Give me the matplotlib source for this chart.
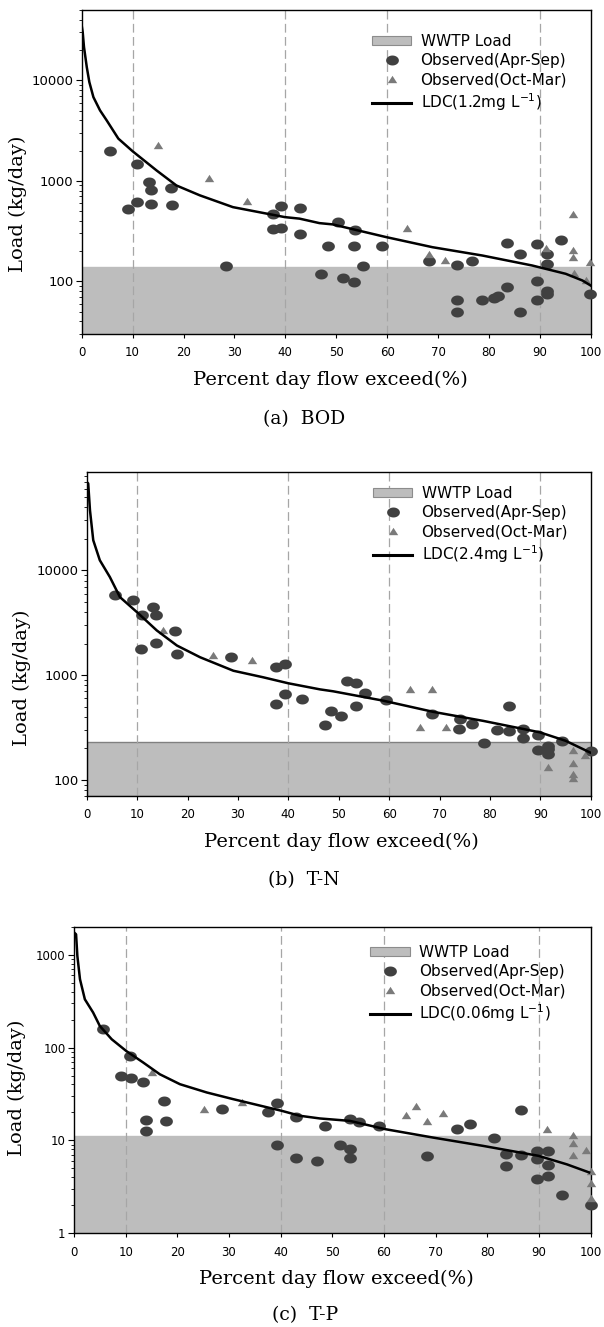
"""Load duration curves (LDC) for BOD, T-N and T-P, three stacked panels."""

import numpy as np
import matplotlib
matplotlib.use("Agg")  # non-interactive backend
import matplotlib.pyplot as plt
import matplotlib.ticker as mticker
from matplotlib.patches import Patch
from matplotlib.lines import Line2D

# ---------------------------------------------------------------------------
# Data
# ---------------------------------------------------------------------------
# (a) BOD
bod_ldc_pct = [0.0, 0.2, 0.45, 1.0, 1.5, 2.3, 3.6, 4.9, 7.2, 10.0, 14.7, 18.6, 23.2,
               29.7, 39.9, 42.8, 46.7, 49.3, 59.8, 68.9, 78.7, 88.5, 95.1, 98.4, 100.0]
bod_ldc_load = [35000, 30000, 21400, 13500, 9600, 6800, 5020, 4000, 2630, 1970, 1270, 900, 718,
                548, 436, 421, 380, 369, 276, 219, 181, 144, 119, 102, 91]
bod_apr_pct = [5.5, 9.1, 10.8, 10.8, 13.2, 13.7, 13.6, 17.5, 17.7, 28.4, 37.6, 39.1, 37.6,
               39.2, 42.8, 42.8, 47.1, 50.3, 53.6, 48.4, 53.4, 59.0, 55.2, 51.3, 53.4, 68.3,
               73.8, 76.6, 73.8, 73.8, 78.6, 81.0, 81.8, 83.5, 83.5, 86.1, 86.1, 89.5, 89.5,
               89.5, 91.5, 91.5, 91.5, 91.5, 94.2, 99.9]
bod_apr_load = [1970, 530, 610, 1480, 970, 820, 590, 840, 570, 142, 470, 560, 330,
                342, 540, 294, 119, 389, 321, 223, 223, 223, 141, 108, 99, 158,
                144, 159, 65, 49.5, 65, 69, 71, 89, 240, 188, 49.5, 233, 102,
                66, 188, 148, 81, 75, 258, 75]
bod_oct_pct = [14.9, 25.0, 32.4, 64.0, 68.3, 71.3, 91.3, 96.6, 96.6, 96.6, 96.7, 99.0, 99.8]
bod_oct_load = [2250, 1070, 625, 339, 188, 163, 215, 470, 203, 176, 122, 104, 156]
bod_wwtp = 138

# (b) T-N
tn_ldc_pct = [0.0, 0.3, 0.65, 1.3, 2.6, 4.6, 6.6, 10.2, 13.9, 17.9, 22.5, 29.1, 35.0,
              40.0, 46.3, 48.9, 58.8, 68.8, 78.7, 89.9, 95.0, 99.9]
tn_ldc_load = [70000, 67600, 37500, 19400, 12500, 8630, 5550, 3900, 2670, 1915, 1480, 1100, 953,
               835, 730, 700, 570, 445, 365, 284, 236, 182]
tn_apr_pct = [5.6, 9.2, 10.9, 13.2, 13.75, 10.85, 13.75, 17.5, 17.9, 28.6, 37.6, 39.3, 39.3,
              37.6, 42.7, 47.3, 48.4, 50.4, 51.6, 53.4, 55.2, 53.5, 59.3, 68.6, 74.1, 73.9,
              76.5, 78.8, 81.4, 83.8, 83.8, 86.5, 86.5, 89.6, 89.6, 91.6, 91.6, 91.6, 94.4, 100.0]
tn_apr_load = [5770, 5250, 3770, 4460, 3770, 1780, 2030, 2610, 1600, 1480, 1190, 1280, 660,
               530, 590, 333, 455, 409, 870, 836, 668, 502, 574, 426, 381, 305,
               341, 225, 299, 506, 292, 305, 248, 268, 192, 212, 197, 176, 236, 188]
tn_oct_pct = [15.2, 25.1, 32.7, 64.1, 68.5, 66.1, 71.2, 91.6, 96.5, 96.5, 96.5, 96.5, 98.9]
tn_oct_load = [2700, 1540, 1380, 738, 738, 318, 318, 133, 192, 146, 113, 105, 174]
tn_wwtp = 231

# (c) T-P
tp_ldc_pct = [0.0, 0.4, 0.65, 1.16, 2.1, 3.7, 5.0, 7.3, 10.1, 13.4, 16.6, 20.5, 25.7,
              30.8, 40.2, 43.7, 47.6, 53.4, 60.2, 69.5, 79.2, 89.9, 95.4, 99.7]
tp_ldc_load = [1750, 1668, 974, 546, 332, 239, 171, 123, 92, 69, 51.6, 40.3, 32.8,
               27.8, 20.8, 18.4, 17.2, 16.2, 13.2, 10.7, 8.7, 6.8, 5.5, 4.5]
tp_apr_pct = [5.7, 9.0, 10.8, 11.0, 13.3, 13.9, 13.9, 17.4, 17.9, 28.6, 37.6, 39.2, 39.2,
              42.9, 42.9, 47.1, 48.6, 51.5, 53.5, 55.2, 53.5, 53.5, 59.1, 68.4, 74.1, 76.6,
              81.3, 83.7, 83.7, 86.5, 86.5, 89.7, 89.7, 89.7, 91.8, 91.8, 91.8, 94.4, 100.0]
tp_apr_load = [158, 49.6, 81, 46.5, 42.7, 16.6, 12.6, 26.7, 16.1, 21.5, 20, 25, 9.0,
               17.9, 6.5, 6.0, 14.3, 9.0, 16.9, 15.8, 8.0, 6.5, 14.1, 6.8, 13.2, 15,
               10.5, 7.1, 5.3, 21.2, 7.0, 7.6, 6.3, 3.8, 7.6, 5.4, 4.1, 2.6, 2.0]
tp_oct_pct = [15.0, 25.2, 32.6, 64.3, 66.2, 68.3, 71.5, 91.5, 96.6, 96.6, 96.6, 99.0,
              100.0, 100.0, 100.0]
tp_oct_load = [54.7, 21.7, 26, 18.7, 23.5, 16.2, 19.6, 13.4, 11.4, 9.3, 6.9, 7.9,
               4.7, 3.5, 2.4]
tp_wwtp = 11.1

guide_pct = [10, 40, 60, 90]
legend_labels = ["WWTP Load", "Observed(Apr-Sep)", "Observed(Oct-Mar)"]

# ---------------------------------------------------------------------------
# Styling
# ---------------------------------------------------------------------------
FIG_W, FIG_H = 604, 1327
BAND = "#bdbdbd"
DOT = "#404040"
TRI = "#7a7a7a"
VLINE = "#a6a6a6"
SERIF = "DejaVu Serif"

_t = np.linspace(0, 2 * np.pi, 48)
ELLIPSE = np.column_stack([np.cos(_t), 0.78 * np.sin(_t)])
TRIANGLE = np.array([[-1.0, -0.78], [1.0, -0.78], [0.0, 0.78], [-1.0, -0.78]])


def _frac(box, px, py):
    left, top, right, bottom = box
    return (px - left) / (right - left), (bottom - py) / (bottom - top)


def draw_panel(fig, box, ldc, apr, octo, wwtp, ylim, ldc_label, caption,
               band_edge, ytick_size, legend_xy, ylabel_xy, xlabel_xy, caption_xy):
    left, top, right, bottom = box
    ax = fig.add_axes([left / FIG_W, 1 - bottom / FIG_H,
                       (right - left) / FIG_W, (bottom - top) / FIG_H])
    ax.set_yscale("log")
    ax.set_xlim(0, 100)
    ax.set_ylim(*ylim)

    ax.axhspan(ylim[0], wwtp, facecolor=BAND, edgecolor=band_edge, lw=1.0, zorder=1)
    for xv in guide_pct:
        ax.axvline(xv, color=VLINE, lw=0.9, ls=(0, (7, 3.5)), zorder=2)
    ax.plot(apr[0], apr[1], ls="none", marker=ELLIPSE, ms=9.2, mew=0, color=DOT,
            zorder=3, clip_on=False)
    ax.plot(octo[0], octo[1], ls="none", marker=TRIANGLE, ms=6.8, mew=0, color=TRI,
            zorder=4, clip_on=False)
    ax.plot(ldc[0], ldc[1], color="black", lw=1.8, zorder=5)

    ax.set_xticks(np.arange(0, 101, 10))
    ax.yaxis.set_major_locator(mticker.LogLocator(base=10))
    ax.yaxis.set_minor_locator(mticker.LogLocator(base=10, subs=np.arange(2, 10)))
    ax.yaxis.set_major_formatter(mticker.FuncFormatter(lambda v, _: f"{v:g}"))
    ax.yaxis.set_minor_formatter(mticker.NullFormatter())
    ax.tick_params(axis="x", which="major", direction="out", length=3, width=0.8,
                   labelsize=8.5, pad=6)
    ax.tick_params(axis="y", which="major", direction="out", length=4.5, width=0.8,
                   labelsize=ytick_size, pad=1.5)
    ax.tick_params(axis="y", which="minor", direction="out", length=2.5, width=0.6)
    for sp in ax.spines.values():
        sp.set_linewidth(1.0)

    handles = [
        Patch(facecolor=BAND, edgecolor="#8c8c8c", lw=0.8),
        Line2D([], [], ls="none", marker=ELLIPSE, ms=9.2, mew=0, color=DOT),
        Line2D([], [], ls="none", marker=TRIANGLE, ms=6.8, mew=0, color=TRI),
        Line2D([], [], color="black", lw=2.2),
    ]
    ax.legend(handles, legend_labels + [ldc_label], loc="upper left",
              bbox_to_anchor=_frac(box, *legend_xy), frameon=False, fontsize=11,
              handlelength=2.6, handleheight=0.5, handletextpad=0.6,
              labelspacing=0.27, borderpad=0, borderaxespad=0)

    ax.set_ylabel("Load (kg/day)", family=SERIF, fontsize=14)
    ax.yaxis.set_label_coords(*_frac(box, *ylabel_xy))
    ax.yaxis.label.set_va("center")
    ax.yaxis.label.set_ha("center")
    ax.set_xlabel("Percent day flow exceed(%)", family=SERIF, fontsize=14)
    ax.xaxis.set_label_coords(*_frac(box, *xlabel_xy))
    ax.xaxis.label.set_va("center")

    fig.text(caption_xy[0] / FIG_W, 1 - caption_xy[1] / FIG_H, caption,
             family=SERIF, fontsize=13.5, ha="center", va="center")
    return ax


fig = plt.figure(figsize=(FIG_W / 100, FIG_H / 100), dpi=100)

draw_panel(fig, (81.7, 10, 590.7, 334),
           (bod_ldc_pct, bod_ldc_load), (bod_apr_pct, bod_apr_load),
           (bod_oct_pct, bod_oct_load), bod_wwtp, (30, 50000),
           r"LDC(1.2mg L$^{-1}$)", "(a)  BOD", BAND, 9.5,
           (371.7, 34), (18, 204), (330, 380), (304, 419))

draw_panel(fig, (86.7, 472, 590.7, 796),
           (tn_ldc_pct, tn_ldc_load), (tn_apr_pct, tn_apr_load),
           (tn_oct_pct, tn_oct_load), tn_wwtp, (70, 87000),
           r"LDC(2.4mg L$^{-1}$)", "(b)  T-N", "#808080", 9.5,
           (372.7, 486), (21.7, 678), (341, 842), (304, 880))

draw_panel(fig, (74, 927, 590.7, 1233),
           (tp_ldc_pct, tp_ldc_load), (tp_apr_pct, tp_apr_load),
           (tp_oct_pct, tp_oct_load), tp_wwtp, (1, 2000),
           r"LDC(0.06mg L$^{-1}$)", "(c)  T-P", BAND, 8.5,
           (370, 945), (16.7, 1088), (336, 1279), (305, 1315))

fig.savefig("out.png", dpi=100)
plt.close(fig)
